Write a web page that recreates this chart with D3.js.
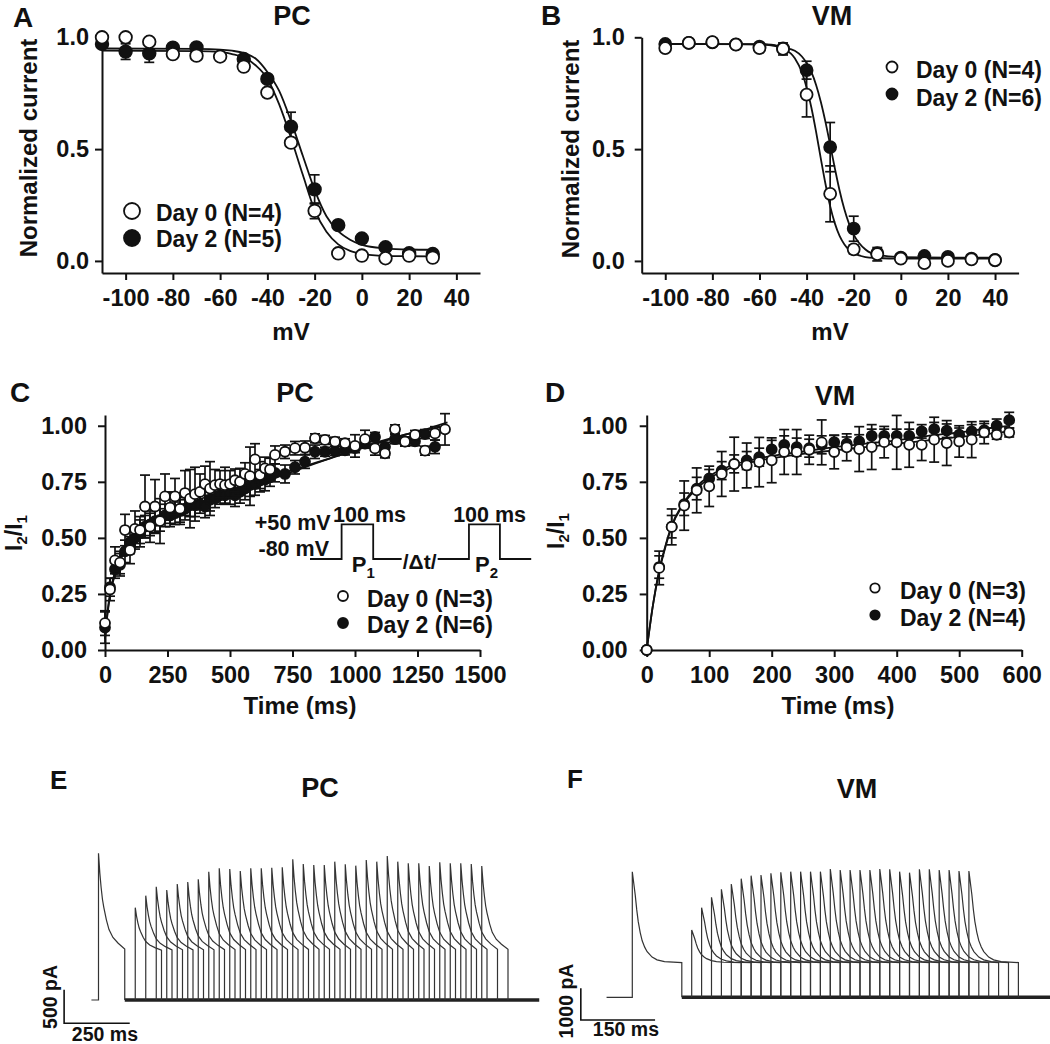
<!DOCTYPE html>
<html><head><meta charset="utf-8">
<script src="https://cdn.jsdelivr.net/npm/d3@7"></script>
<style>body{margin:0;background:#fff}</style>
</head><body>
<script>
// ================= DATA =================
// Panel A : PC steady-state inactivation
const aVolt0 = [-110,-100,-90,-80,-70,-60,-50,-40,-30,-20,-10,0,10,20,30];
const aDay0 = [1.0,1.0,0.98,0.925,0.918,0.914,0.869,0.753,0.529,0.224,0.034,0.024,0.012,0.024,0.015];
const aDay0Err = [0.01,0.01,0.01,0.01,0.01,0.01,0.01,0.01,0.02,0.035,0.01,0.01,0.01,0.01,0.01];
const aVolt2 = [-110,-100,-90,-80,-70,-50,-40,-30,-20,-10,0,10,20,30];
const aDay2 = [0.97,0.936,0.928,0.954,0.955,0.903,0.814,0.60,0.32,0.16,0.10,0.061,0.034,0.031];
const aDay2Err = [0.01,0.035,0.04,0.01,0.01,0.01,0.01,0.065,0.065,0.01,0.01,0.01,0.01,0.01];
const aFitV = [-110,-70,-60,-55,-50,-45,-40,-35,-30,-25,-20,-15,-10,-5,0,10,20,30];
const aFit0 = [0.94,0.938,0.935,0.925,0.91,0.875,0.815,0.70,0.55,0.385,0.228,0.13,0.074,0.045,0.032,0.023,0.021,0.02];
const aFit2 = [0.95,0.948,0.945,0.94,0.93,0.905,0.845,0.76,0.625,0.47,0.318,0.2,0.133,0.095,0.072,0.056,0.051,0.05];

// Panel B : VM steady-state inactivation
const bVolt = [-100,-90,-80,-70,-60,-50,-40,-30,-20,-10,0,10,20,30,40];
const bDay0 = [0.952,0.975,0.978,0.967,0.952,0.948,0.744,0.30,0.052,0.03,0.01,-0.01,0.0,0.007,0.003];
const bDay0Err = [0.015,0.01,0.01,0.01,0.01,0.027,0.10,0.125,0.02,0.03,0.01,0.01,0.01,0.01,0.01];
const bDay2 = [0.97,0.975,0.977,0.968,0.958,0.95,0.853,0.509,0.144,0.035,0.015,0.022,0.018,0.01,0.005];
const bDay2Err = [0.01,0.01,0.01,0.01,0.01,0.01,0.04,0.11,0.056,0.01,0.01,0.01,0.01,0.01,0.01];
const bFitV = [-100,-60,-55,-50,-45,-42,-40,-38,-36,-34,-32,-30,-28,-26,-24,-22,-20,-15,-10,0,20,40];
const bFit0 = [0.97,0.968,0.964,0.95,0.906,0.843,0.776,0.687,0.579,0.46,0.345,0.245,0.168,0.112,0.075,0.05,0.035,0.017,0.013,0.01,0.01,0.01];
const bFit2 = [0.97,0.969,0.967,0.955,0.94,0.914,0.885,0.845,0.788,0.713,0.622,0.519,0.414,0.315,0.232,0.167,0.118,0.051,0.027,0.017,0.015,0.015];

// Panel C : PC recovery from inactivation
const cTime0 = [0,20,40,60,80,100,120,140,160,180,200,220,240,260,280,300,320,340,360,380,400,420,440,460,480,500,520,540,560,580,600,620,640,660,680,720,760,800,840,880,920,960,1000,1040,1080,1120,1160,1200,1240,1280,1320,1360];
const cDay0 = [0.12,0.27,0.40,0.39,0.535,0.445,0.54,0.535,0.64,0.55,0.64,0.575,0.685,0.635,0.685,0.63,0.70,0.675,0.695,0.705,0.74,0.72,0.735,0.74,0.735,0.74,0.757,0.75,0.785,0.775,0.85,0.78,0.81,0.805,0.87,0.884,0.90,0.902,0.944,0.937,0.929,0.922,0.91,0.94,0.899,0.877,0.984,0.929,0.959,0.889,0.966,0.984];
const cDay0Err = [0.055,0.05,0.06,0.05,0.07,0.06,0.08,0.06,0.14,0.07,0.12,0.1,0.1,0.07,0.08,0.07,0.1,0.13,0.12,0.08,0.08,0.12,0.07,0.06,0.08,0.06,0.05,0.06,0.05,0.13,0.07,0.06,0.05,0.05,0.04,0.03,0.03,0.03,0.02,0.02,0.02,0.02,0.05,0.04,0.03,0.02,0.02,0.02,0.02,0.02,0.03,0.07];
const cTime2 = [0,20,40,60,80,100,120,140,160,180,200,220,240,260,280,300,320,340,360,380,400,420,440,460,480,500,520,540,560,580,600,620,640,660,680,720,760,800,840,880,920,960,1000,1040,1080,1120,1160,1200,1240,1280,1320];
const cDay2 = [0.10,0.28,0.36,0.38,0.44,0.48,0.50,0.52,0.55,0.56,0.575,0.58,0.60,0.60,0.61,0.62,0.63,0.645,0.645,0.65,0.64,0.67,0.675,0.69,0.69,0.70,0.69,0.705,0.72,0.735,0.74,0.755,0.76,0.77,0.79,0.785,0.815,0.84,0.884,0.884,0.887,0.89,0.90,0.92,0.95,0.906,0.94,0.93,0.931,0.963,0.906];
const cDay2Err = [0.07,0.04,0.04,0.05,0.05,0.05,0.05,0.06,0.05,0.05,0.05,0.05,0.05,0.05,0.05,0.05,0.05,0.05,0.05,0.04,0.05,0.05,0.04,0.04,0.04,0.05,0.05,0.05,0.05,0.05,0.05,0.05,0.05,0.04,0.04,0.04,0.03,0.03,0.03,0.02,0.02,0.02,0.02,0.02,0.02,0.02,0.02,0.02,0.02,0.02,0.03];
const cFitT = [0,10,20,40,60,80,100,150,200,300,400,500,600,700,800,900,1000,1100,1200,1300,1370];
const cFit0 = [0.05,0.17,0.25,0.35,0.41,0.455,0.49,0.545,0.585,0.64,0.68,0.715,0.75,0.785,0.82,0.855,0.89,0.925,0.96,0.99,1.015];
const cFit2 = [0.05,0.16,0.24,0.34,0.40,0.44,0.475,0.53,0.57,0.625,0.665,0.70,0.735,0.775,0.815,0.855,0.895,0.93,0.96,0.985,1.0];

// Panel D : VM recovery from inactivation
const dTime = [0,20,40,60,80,100,120,140,160,180,200,220,240,260,280,300,320,340,360,380,400,420,440,460,480,500,520,540,560,580];
const dDay0 = [0.0,0.366,0.549,0.644,0.712,0.73,0.785,0.829,0.823,0.838,0.846,0.883,0.883,0.893,0.926,0.883,0.904,0.896,0.905,0.927,0.926,0.915,0.915,0.938,0.923,0.930,0.938,0.970,0.960,0.970];
const dDay0Err = [0.01,0.075,0.08,0.11,0.1,0.09,0.1,0.12,0.1,0.11,0.1,0.1,0.1,0.065,0.1,0.075,0.06,0.1,0.1,0.07,0.12,0.1,0.07,0.1,0.1,0.07,0.08,0.05,0.02,0.02];
const dDay2 = [0.0,0.37,0.55,0.65,0.72,0.765,0.80,0.83,0.845,0.86,0.895,0.915,0.905,0.90,0.915,0.927,0.92,0.93,0.955,0.955,0.955,0.955,0.975,0.985,0.978,0.96,0.975,0.98,1.0,1.025];
const dDay2Err = [0.01,0.05,0.05,0.05,0.05,0.04,0.04,0.04,0.04,0.04,0.04,0.04,0.04,0.04,0.04,0.03,0.03,0.03,0.03,0.03,0.03,0.03,0.03,0.03,0.03,0.03,0.03,0.03,0.03,0.035];
const dFitT = [0,10,20,30,40,60,80,100,120,150,200,250,300,350,400,450,500,550,580];
const dFit0 = [0,0.2,0.35,0.46,0.55,0.655,0.72,0.765,0.795,0.825,0.855,0.875,0.89,0.905,0.92,0.935,0.95,0.965,0.975];
const dFit2 = [0,0.2,0.355,0.465,0.555,0.66,0.73,0.775,0.805,0.835,0.865,0.885,0.905,0.92,0.935,0.955,0.97,0.99,1.0];

// Tick labels
const mvTicks = [-100,-80,-60,-40,-20,0,20,40];
const normTicks = [0.0,0.5,1.0];
const cTicksX = [0,250,500,750,1000,1250,1500];
const dTicksX = [0,100,200,300,400,500,600];
const ratioTicks = [0,0.25,0.5,0.75,1.0];

// Inset protocol (schematic, ms-like units; voltage in mV)
const protoSeg1 = [[0,-80],[100,-80],[100,50],[200,50],[200,-80],[290,-80]];
const protoSeg2 = [[404,-80],[503,-80],[503,50],[601,50],[601,-80],[700,-80]];

// Panel E : PC current traces (pA vs ms; t=0 at P1 onset)
const eDelays = [40,80,120,160,200,240,280,320,360,400,440,480,520,560,600,640,680,720,760,800,840,880,920,960,1000,1040,1080,1120,1160,1200,1240,1280,1320,1360];
const ePeaks = [1378,1557,1691,1642,1731,1761,1801,1915,1965,1955,1925,1965,1965,1975,1980,2100,2030,2015,2015,2065,2025,2005,2090,2065,2150,2065,2040,2040,2000,2055,2040,2040,2030,2000];
const eP1Peak = 2190, ePlateau = 730, ePreStart = -27, eBaseEnd = 1679;
const eDecayT = [0,5,10,15,20,30,40,55,75,100];
const eDecayF = [1,0.8,0.65,0.53,0.45,0.32,0.22,0.14,0.08,0.02];

// Panel F : VM current traces
const fDelays = [20,40,60,80,100,120,140,160,180,200,220,240,260,280,300,320,340,360,380,400,420,440,460,480,500,520,540,560,580];
const fPeaks = [2123,2828,3155,3407,3575,3743,3837,3858,3912,3943,3963,3963,3963,3963,4048,4016,4016,4016,4016,4048,4037,3963,3932,4037,4037,4016,4016,3985,3985];
const fP1Peak = 3962, fPlateau = 1095, fPreStart = -52, fBaseEnd = 844;
const fDecayT = [0,3,6,9,12,16,20,25,30,40,50,65,100];
const fDecayF = [1,0.87,0.74,0.58,0.45,0.33,0.24,0.17,0.12,0.06,0.03,0.01,0];

// ================= DRAWING =================
const FONT = "'Liberation Sans', Arial, Helvetica, sans-serif";
const INK = "#111";
const svg = d3.select("body").append("svg").attr("width",1050).attr("height",1044)
  .style("font-family",FONT);

function txt(x,y,s,size,anchor="middle",weight="bold"){
  return svg.append("text").attr("x",x).attr("y",y).attr("text-anchor",anchor)
    .attr("font-size",size).attr("font-weight",weight).attr("fill",INK).text(s);
}
function rotTxt(x,y,s,size){
  return svg.append("text").attr("transform",`translate(${x},${y}) rotate(-90)`)
    .attr("text-anchor","middle").attr("dy","0.35em").attr("font-size",size)
    .attr("font-weight","bold").attr("fill",INK).text(s);
}

function panel(o){
  const g = svg.append("g");
  const x = d3.scaleLinear().domain(o.xDomain).range(o.xRange);
  const y = d3.scaleLinear().domain(o.yDomain).range(o.yRange);
  const xa = d3.axisBottom(x).tickValues(o.xTicks).tickSize(7).tickSizeOuter(0)
    .tickPadding(9).tickFormat(d=>String(d));
  const ya = d3.axisLeft(y).tickValues(o.yTicks).tickSize(7).tickSizeOuter(0)
    .tickPadding(o.yPad).tickFormat(o.yFmt);
  const gx = g.append("g").attr("transform",`translate(0,${o.yRange[0]})`).call(xa);
  const gy = g.append("g").attr("transform",`translate(${o.xRange[0]},0)`).call(ya);
  [gx,gy].forEach(a=>{
    a.selectAll("path,line").attr("stroke",INK).attr("stroke-width",2);
    a.selectAll("text").attr("font-size",23.5).attr("font-weight","bold").attr("fill",INK)
      .attr("font-family",FONT);
  });
  const line = d3.line().x(d=>x(d[0])).y(d=>y(d[1])).curve(d3.curveMonotoneX);
  o.fits.forEach(f=>{
    g.append("path").datum(f.t.map((t,i)=>[t,f.v[i]])).attr("d",line)
      .attr("fill","none").attr("stroke",INK).attr("stroke-width",1.8);
  });
  o.series.forEach(s=>{
    const pts = s.t.map((t,i)=>({t, v:s.v[i], e:s.e[i]}));
    const eb = g.append("g").attr("stroke",INK).attr("stroke-width",1.7);
    pts.forEach(p=>{
      const x0 = x(p.t), y1 = y(p.v+p.e), y2 = y(p.v-p.e);
      eb.append("line").attr("x1",x0).attr("x2",x0).attr("y1",y1).attr("y2",y2);
      eb.append("line").attr("x1",x0-o.cap).attr("x2",x0+o.cap).attr("y1",y1).attr("y2",y1);
      eb.append("line").attr("x1",x0-o.cap).attr("x2",x0+o.cap).attr("y1",y2).attr("y2",y2);
    });
    g.append("g").selectAll("circle").data(pts).join("circle")
      .attr("cx",d=>x(d.t)).attr("cy",d=>y(d.v)).attr("r",o.r)
      .attr("fill",s.fill).attr("stroke",INK).attr("stroke-width",1.8);
  });
  return {x,y};
}

// ---- A ----
panel({xDomain:[-110,50],xRange:[102,480],yDomain:[-0.054,1.0],yRange:[273,37.3],
  xTicks:mvTicks,yTicks:normTicks,yFmt:d3.format(".1f"),yPad:6,r:6.3,cap:5,
  fits:[{t:aFitV,v:aFit0},{t:aFitV,v:aFit2}],
  series:[{t:aVolt2,v:aDay2,e:aDay2Err,fill:INK},{t:aVolt0,v:aDay0,e:aDay0Err,fill:"#fff"}]});
// ---- B ----
panel({xDomain:[-110,50],xRange:[641.7,1018.6],yDomain:[-0.054,1.0],yRange:[273,37.3],
  xTicks:mvTicks,yTicks:normTicks,yFmt:d3.format(".1f"),yPad:10,r:6,cap:5,
  fits:[{t:bFitV,v:bFit0},{t:bFitV,v:bFit2}],
  series:[{t:bVolt,v:bDay2,e:bDay2Err,fill:INK},{t:bVolt,v:bDay0,e:bDay0Err,fill:"#fff"}]});
// ---- C ----
panel({xDomain:[0,1500],xRange:[105,480],yDomain:[0,1.048],yRange:[650,415],
  xTicks:cTicksX,yTicks:ratioTicks,yFmt:d3.format(".2f"),yPad:11,r:5,cap:5,
  fits:[{t:cFitT,v:cFit0},{t:cFitT,v:cFit2}],
  series:[{t:cTime2,v:cDay2,e:cDay2Err,fill:INK},{t:cTime0,v:cDay0,e:cDay0Err,fill:"#fff"}]});
// ---- D ----
panel({xDomain:[0,600],xRange:[646.7,1021.7],yDomain:[0,1.048],yRange:[650,415],
  xTicks:dTicksX,yTicks:ratioTicks,yFmt:d3.format(".2f"),yPad:12,r:5,cap:5,
  fits:[{t:dFitT,v:dFit0},{t:dFitT,v:dFit2}],
  series:[{t:dTime,v:dDay2,e:dDay2Err,fill:INK},{t:dTime,v:dDay0,e:dDay0Err,fill:"#fff"}]});

// panel letters & titles
[["A",13,27],["B",541,25],["C",10,402],["D",545,402]].forEach(d=>txt(d[1],d[2],d[0],28,"start"));
[["E",50,789],["F",567,788]].forEach(d=>txt(d[1],d[2],d[0],26,"start"));
txt(292,25,"PC",27); txt(832,25,"VM",27); txt(295,402,"PC",27); txt(835,405,"VM",27);
txt(320,797,"PC",27); txt(857,798,"VM",27);

// axis titles
rotTxt(29,148,"Normalized current",24); rotTxt(571,149,"Normalized current",24);
txt(291,340,"mV",24); txt(830,340,"mV",24);
txt(300,714,"Time (ms)",24); txt(838,714,"Time (ms)",24);
function ratioTitle(x,y){
  const t = svg.append("text").attr("transform",`translate(${x},${y}) rotate(-90)`)
    .attr("text-anchor","middle").attr("dy","0.35em").attr("font-size",23)
    .attr("font-weight","bold").attr("fill",INK);
  t.append("tspan").text("I");
  t.append("tspan").attr("font-size",15).attr("dy",5).text("2");
  t.append("tspan").attr("dy",-5).text("/I");
  t.append("tspan").attr("font-size",15).attr("dy",5).text("1");
}
ratioTitle(14,533); ratioTitle(556,531);

// legends
function legend(cx,cys,r,tx,bases,labels){
  [["#fff",0],[INK,1]].forEach(([f,i])=>{
    svg.append("circle").attr("cx",cx).attr("cy",cys[i]).attr("r",r).attr("fill",f)
      .attr("stroke",INK).attr("stroke-width",1.8);
    txt(tx,bases[i],labels[i],23,"start");
  });
}
legend(132,[211,238],8,156,[221,247],["Day 0 (N=4)","Day 2 (N=5)"]);
legend(892,[67,94],5.5,916,[78,106],["Day 0 (N=4)","Day 2 (N=6)"]);
legend(343,[596,623],5,367,[607,633],["Day 0 (N=3)","Day 2 (N=6)"]);
legend(875,[588,615],4.7,900,[599,626],["Day 0 (N=3)","Day 2 (N=4)"]);

// inset protocol in C
{
  const ix = d3.scaleLinear().domain([0,100]).range([310,341.6]);
  const iy = d3.scaleLinear().domain([-80,50]).range([559,524.3]);
  const pl = d3.line().x(d=>ix(d[0])).y(d=>iy(d[1]));
  [protoSeg1,protoSeg2].forEach(s=>svg.append("path").datum(s).attr("d",pl)
    .attr("fill","none").attr("stroke",INK).attr("stroke-width",1.8));
  txt(ix(347),569,"/Δt/",21);
  txt(330.6,530,"+50 mV",21.5,"end"); txt(329,556,"-80 mV",21.5,"end");
  txt(ix(73),521.7,"100 ms",21.5,"start"); txt(ix(453),521.7,"100 ms",21.5,"start");
  [["1",132],["2",522]].forEach(([n,u])=>{
    const t = svg.append("text").attr("x",ix(u)).attr("y",571.7).attr("font-size",22)
      .attr("font-weight","bold").attr("fill",INK);
    t.append("tspan").text("P");
    t.append("tspan").attr("font-size",15).attr("dy",6).text(n);
  });
}

// current traces E / F
function traces(o){
  const x = d3.scaleLinear().domain([0,1000]).range([o.x0,o.x0+1000*o.pxPerMs]);
  const y = d3.scaleLinear().domain([0,1000]).range([o.y0,o.y0-1000*o.pxPerPA]);
  const line = d3.line().x(d=>x(d[0])).y(d=>y(d[1]));
  const sweep = (t0,peak)=>{
    const p = [[t0,0],[t0,peak]];
    o.decT.forEach((dt,i)=>p.push([t0+dt, o.plateau+(peak-o.plateau)*o.decF[i]]));
    p.push([t0+100,0]);
    return p;
  };
  svg.append("path").datum([[100,0],[o.baseEnd,0]]).attr("d",line)
    .attr("stroke","#222").attr("stroke-width",3.6).attr("fill","none");
  const g = svg.append("g").attr("fill","none").attr("stroke","#333").attr("stroke-width",1.2);
  g.append("path").datum([[o.preStart,0]].concat(sweep(0,o.p1))).attr("d",line);
  o.delays.forEach((dl,i)=>g.append("path").datum(sweep(100+dl,o.peaks[i])).attr("d",line));
  // scale bars
  const [sx,sy] = o.barOrigin;
  svg.append("path").datum([[sx,sy+o.barPA],[sx,sy],[sx+o.barMs,sy]]).attr("d",line)
    .attr("fill","none").attr("stroke",INK).attr("stroke-width",1.6);
  rotTxt(o.paLabel[0],o.paLabel[1],o.barPA+" pA",19.5);
  txt(x(sx+o.barMs/2)+o.msShift,o.msBase,o.barMs+" ms",19.5);
}
traces({x0:98.5,y0:1000,pxPerMs:0.2625,pxPerPA:0.067,delays:eDelays,peaks:ePeaks,p1:eP1Peak,
  plateau:ePlateau,decT:eDecayT,decF:eDecayF,preStart:ePreStart,baseEnd:eBaseEnd,
  barOrigin:[-131,-348],barPA:500,barMs:250,paLabel:[50,997],msShift:8,msBase:1041});
traces({x0:632.3,y0:997.3,pxPerMs:0.495,pxPerPA:0.0317,delays:fDelays,peaks:fPeaks,p1:fP1Peak,
  plateau:fPlateau,decT:fDecayT,decF:fDecayF,preStart:fPreStart,baseEnd:fBaseEnd,
  barOrigin:[-104,-716],barPA:1000,barMs:150,paLabel:[566,1001],msShift:8,msBase:1036});
</script>
</body></html>
